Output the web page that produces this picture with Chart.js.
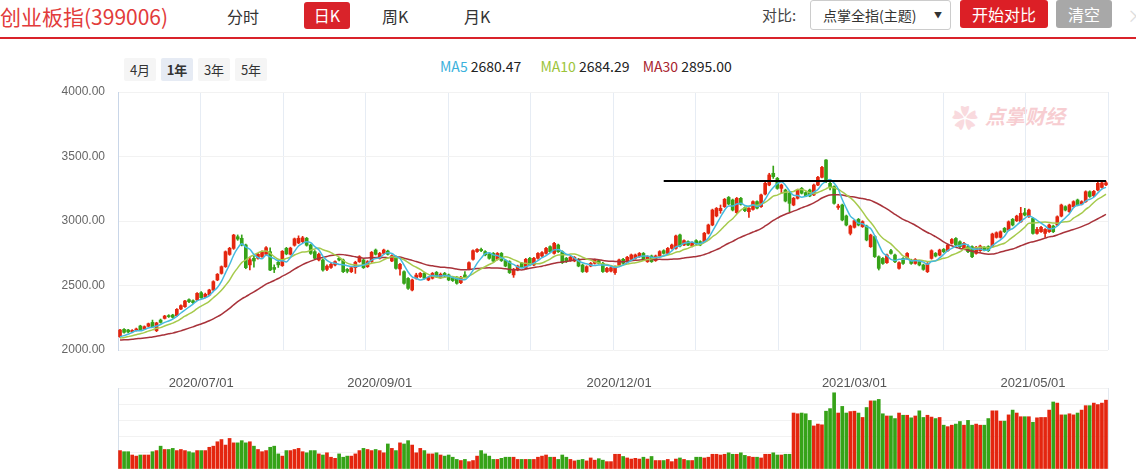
<!DOCTYPE html>
<html>
<head>
<meta charset="utf-8">
<script src="https://cdn.jsdelivr.net/npm/chart.js@4.4.1/dist/chart.umd.min.js"></script>
<style>
body { margin:0; width:1136px; height:469px; overflow:hidden; background:#fff; position:relative;
       font-family:'Noto Sans CJK SC','Liberation Sans',sans-serif; color:#333; }
.a { position:absolute; white-space:nowrap; }
.btn { position:absolute; text-align:center; border-radius:3px; }
.rng { position:absolute; top:58px; width:32px; height:23px; line-height:23px; text-align:center;
       font-size:13px; background:#f5f5f5; border-radius:2px; color:#333; }
#main { position:absolute; left:0; top:40px; }
#vol { position:absolute; left:0; top:380px; }
</style>
</head>
<body>
<div class="a" style="left:0;top:1px;font-size:21px;color:#e23b3b;">创业板指(399006)</div>
<div class="a" style="left:227px;top:4px;font-size:16px;">分时</div>
<div class="btn" style="left:304px;top:2px;width:46px;height:27px;line-height:27px;background:#d9232a;color:#fff;font-size:16px;">日K</div>
<div class="a" style="left:382px;top:4px;font-size:16px;">周K</div>
<div class="a" style="left:464px;top:4px;font-size:16px;">月K</div>

<div class="a" style="left:762px;top:4px;font-size:15px;color:#444;">对比:</div>
<div class="btn" style="left:810px;top:0;width:139px;height:28px;border:1px solid #ccc;background:#fff;"></div>
<div class="a" style="left:823px;top:5px;font-size:14px;color:#333;">点掌全指(主题)</div>
<div class="a" style="left:934px;top:9px;font-size:8px;color:#333;">▼</div>
<div class="btn" style="left:960px;top:0;width:88px;height:28px;line-height:28px;background:#dc1f26;color:#fff;font-size:16px;">开始对比</div>
<div class="btn" style="left:1056px;top:0;width:56px;height:28px;line-height:28px;background:#a8a8a8;color:#fff;font-size:16px;">清空</div>
<div class="a" style="left:1127px;top:2px;font-size:18px;color:#ddd;">×</div>
<div class="a" style="left:0;top:37px;width:1136px;height:2px;background:#d9232a;"></div>

<div class="rng" style="left:124px;">4月</div>
<div class="rng" style="left:161px;background:#e6ebf4;font-weight:bold;">1年</div>
<div class="rng" style="left:198px;">3年</div>
<div class="rng" style="left:235px;">5年</div>

<div class="a" style="left:440px;top:56px;font-size:14px;color:#222;">
  <span style="color:#3bb1dc">MA5</span> 2680.47
  <span style="color:#9cc43a;margin-left:16px">MA10</span> 2684.29
  <span style="color:#a8232e;margin-left:10px">MA30</span> 2895.00
</div>

<div class="a" style="left:952px;top:98px;font-size:26px;color:#f9dade;">✿</div>
<div class="a" style="left:985px;top:101px;font-size:20px;font-weight:bold;font-style:italic;color:#f7cdd1;">点掌财经</div>

<canvas id="main" width="1136" height="355"></canvas>
<canvas id="vol" width="1136" height="100"></canvas>

<script>
// 交易日历：起止日期与休市日
const firstDay = '2020-06-01';
const lastDay = '2021-06-01';
const holidays = ['2020-06-25','2020-06-26','2020-10-01','2020-10-02','2020-10-05','2020-10-06',
  '2020-10-07','2020-10-08','2021-01-01','2021-02-11','2021-02-12','2021-02-15','2021-02-16',
  '2021-02-17','2021-04-05','2021-05-03','2021-05-04','2021-05-05'];

// x 轴显示的日期标签
const tickLabels = [
  { date: '2020-07-01', text: '2020/07/01' },
  { date: '2020-09-01', text: '2020/09/01' },
  { date: '2020-12-01', text: '2020/12/01' },
  { date: '2021-03-01', text: '2021/03/01' },
  { date: '2021-05-06', text: '2021/05/01' }
];

// 2020年5月收盘价（只用于计算均线起点）
const priorCloses = [2075,2090,2068,2055,2061,2072,2080,2066,2050,2048,2060,2074,2085,2070,2062,
  2058,2066,2072,2078,2083,2090,2074,2081,2086,2079,2094,2088,2082,2096];

const opens = [
  2103,2160,2155,2142,2153,2186,2163,2184,2214,2150,2232,2245,2266,2271,2266,2318,2336,2390,2382,2388,
  2444,2411,2426,2465,2543,2594,2646,2741,2788,2878,2866,2814,2660,2711,2711,2724,2742,2762,2640,2680,
  2654,2788,2742,2812,2830,2840,2866,2814,2762,2698,2698,2625,2640,2659,2711,2698,2625,2607,2638,2685,
  2698,2646,2685,2775,2711,2749,2767,2690,2724,2628,2607,2555,2465,2556,2568,2594,2543,2556,2602,2561,
  2594,2582,2556,2564,2522,2582,2626,2703,2763,2780,2763,2742,2749,2703,2749,2693,2685,2582,2620,2672,
  2633,2711,2659,2711,2729,2749,2801,2749,2814,2762,2711,2693,2690,2703,2659,2608,2651,2672,2693,2672,
  2608,2612,2600,2659,2703,2685,2703,2711,2724,2749,2685,2729,2693,2729,2770,2749,2788,2788,2892,2814,
  2840,2806,2848,2840,2840,2905,2969,3039,3080,3111,3183,3163,3065,3176,3103,3072,3090,3150,3111,3209,
  3279,3370,3331,3253,3240,3215,3124,3176,3253,3220,3240,3202,3279,3339,3473,3292,3266,3105,3124,3039,
  2904,2951,3013,2956,2961,2801,2880,2723,2710,2677,2770,2736,2633,2710,2710,2697,2671,2684,2659,2607,
  2710,2749,2736,2780,2770,2827,2865,2839,2783,2801,2801,2749,2770,2796,2801,2801,2873,2873,2943,2930,
  3013,3002,2994,3064,3033,3020,2904,2917,2904,2917,2961,2969,3038,3111,3072,3111,3163,3131,3150,3227,
  3195,3240,3260,3280
];
const closes = [
  2155,2137,2140,2152,2163,2155,2181,2204,2180,2210,2214,2263,2259,2253,2315,2344,2380,2375,2367,2439,
  2406,2432,2465,2530,2587,2646,2762,2788,2891,2860,2814,2638,2700,2690,2742,2762,2793,2620,2625,2660,
  2765,2745,2790,2862,2866,2870,2812,2749,2711,2742,2620,2650,2664,2685,2698,2607,2610,2638,2680,2724,
  2638,2685,2757,2742,2749,2775,2742,2731,2633,2664,2517,2478,2543,2581,2594,2556,2561,2594,2568,2587,
  2574,2543,2538,2517,2564,2564,2677,2770,2780,2770,2737,2711,2690,2749,2693,2651,2600,2626,2651,2646,
  2703,2659,2711,2749,2755,2788,2762,2827,2762,2677,2685,2719,2718,2651,2608,2646,2672,2698,2672,2608,
  2633,2638,2646,2698,2672,2719,2737,2737,2749,2698,2724,2685,2729,2763,2749,2788,2814,2884,2806,2848,
  2814,2832,2822,2814,2905,2969,3085,3098,3098,3168,3132,3085,3176,3130,3080,3098,3150,3100,3202,3292,
  3357,3344,3253,3279,3155,3137,3176,3240,3215,3194,3194,3279,3339,3416,3305,3266,3137,3116,3008,2969,
  2961,3002,2969,2995,2853,2891,2724,2633,2671,2736,2749,2684,2677,2671,2749,2671,2702,2659,2625,2671,
  2770,2728,2775,2762,2814,2857,2814,2801,2827,2762,2723,2796,2806,2775,2770,2899,2909,2917,2917,2994,
  2969,3038,3059,3046,3085,2904,2935,2951,2935,2969,2917,3033,3124,3085,3124,3150,3124,3150,3227,3190,
  3230,3292,3295,3296
];
const highs = [
  2160,2166,2161,2158,2170,2192,2187,2209,2232,2215,2240,2269,2274,2277,2321,2350,2386,2397,2389,2445,
  2453,2441,2471,2537,2593,2652,2768,2796,2897,2892,2892,2821,2720,2726,2749,2769,2801,2792,2660,2700,
  2771,2796,2797,2868,2885,2881,2873,2821,2771,2751,2706,2660,2672,2692,2718,2705,2632,2646,2688,2731,
  2706,2693,2764,2783,2757,2782,2774,2738,2730,2672,2613,2561,2550,2595,2601,2601,2568,2601,2609,2597,
  2602,2589,2563,2570,2571,2608,2684,2777,2787,2790,2770,2749,2756,2756,2756,2700,2692,2633,2658,2679,
  2710,2718,2718,2756,2762,2795,2808,2834,2821,2769,2718,2726,2725,2710,2666,2653,2679,2705,2700,2679,
  2640,2645,2653,2705,2710,2726,2744,2744,2756,2756,2731,2736,2736,2770,2777,2795,2821,2891,2899,2855,
  2847,2839,2855,2847,2912,2976,3092,3105,3124,3175,3190,3170,3183,3183,3110,3105,3157,3157,3209,3299,
  3370,3426,3338,3286,3247,3222,3183,3247,3260,3227,3247,3286,3346,3423,3477,3300,3273,3130,3131,3046,
  2968,3009,3020,3002,2968,2898,2887,2730,2717,2743,2780,2743,2684,2717,2756,2704,2709,2691,2666,2678,
  2777,2756,2782,2787,2821,2864,2872,2846,2834,2815,2808,2803,2813,2803,2808,2906,2916,2924,2950,3001,
  3020,3045,3106,3098,3092,3027,2950,2958,2942,2976,2968,3040,3131,3118,3131,3157,3170,3157,3234,3234,
  3237,3299,3302,3310
];
const lows = [
  2098,2130,2132,2136,2147,2150,2158,2179,2175,2142,2208,2240,2252,2247,2261,2312,2330,2367,2360,2383,
  2400,2404,2420,2460,2537,2588,2640,2734,2780,2850,2807,2630,2620,2642,2704,2717,2735,2614,2600,2640,
  2648,2738,2736,2805,2824,2832,2805,2741,2700,2690,2612,2614,2632,2652,2690,2600,2598,2600,2594,2679,
  2632,2640,2679,2736,2705,2743,2736,2684,2626,2581,2510,2470,2458,2549,2562,2550,2537,2550,2562,2555,
  2566,2537,2531,2510,2515,2558,2620,2697,2757,2763,2730,2704,2684,2697,2686,2645,2593,2563,2614,2640,
  2627,2653,2653,2705,2722,2743,2756,2743,2756,2670,2678,2687,2684,2645,2601,2601,2645,2666,2666,2601,
  2601,2605,2585,2653,2666,2679,2697,2705,2718,2692,2679,2679,2687,2723,2743,2743,2782,2782,2800,2808,
  2808,2800,2816,2808,2834,2899,2963,3032,3060,3105,3126,3078,3058,3123,3073,3028,3084,3093,3105,3203,
  3273,3330,3246,3215,3148,3072,3118,3170,3209,3188,3188,3196,3273,3333,3298,3240,3130,3090,3001,2962,
  2892,2945,2962,2950,2846,2795,2717,2620,2664,2671,2742,2677,2626,2664,2704,2664,2665,2652,2618,2600,
  2704,2721,2730,2755,2764,2821,2807,2794,2777,2755,2716,2743,2764,2768,2763,2795,2867,2867,2910,2924,
  2962,2996,2988,3039,3027,2897,2898,2911,2873,2911,2910,2963,3032,3078,3066,3105,3117,3125,3144,3183,
  3189,3234,3254,3274
];

// 成交量（相对单位）
const volumes = [
  50,47,47,38,35,38,38,38,47,50, 62,53,53,56,50,53,50,47,44,50,
  50,50,59,62,74,80,65,83,71,71, 77,71,74,62,53,47,50,59,62,41,
  35,50,50,53,56,47,44,50,50,41, 38,44,32,29,41,32,35,35,41,50,
  56,53,50,53,50,44,68,56,50,71, 68,77,65,44,56,50,41,41,44,38,
  35,38,32,26,23,26,20,23,35,50, 41,35,26,26,29,32,32,32,26,26,
  26,26,26,32,35,38,32,32,26,38, 32,26,22,24,26,22,30,24,28,24,
  20,20,40,40,34,30,27,29,27,32, 27,34,23,23,23,26,20,27,30,26,
  23,23,32,32,30,32,40,40,38,40, 44,40,40,44,37,34,32,32,30,40,
  40,44,38,38,40,40,152,150,152,150, 132,117,122,120,157,164,207,152,170,152,
  156,157,152,140,167,185,185,189,150,144, 144,137,152,146,146,139,144,158,140,146,
  141,137,140,119,115,119,122,129,119,132, 119,122,119,119,137,158,158,130,130,147,
  160,152,142,142,142,127,139,140,140,160, 182,179,147,147,150,147,152,160,172,172,
  179,175,179,187
];

// 画线：压力位
const trendLine = { fromDate: '2020-12-16', value: 3310 };

const RED = '#e4260f';
const GREEN = '#36a318';

// 生成交易日
const dates = [];
for (let d = new Date(firstDay + 'T00:00:00Z'); d <= new Date(lastDay + 'T00:00:00Z'); d.setUTCDate(d.getUTCDate() + 1)) {
  const wd = d.getUTCDay();
  const s = d.toISOString().split('T')[0];
  if (wd !== 0 && wd !== 6 && !holidays.includes(s)) dates.push(s);
}

const labelMap = {};
tickLabels.forEach(t => { labelMap[dates.indexOf(t.date)] = t.text; });

function movingAverage(n) {
  const all = priorCloses.concat(closes);
  return closes.map((c, i) => {
    const end = i + priorCloses.length + 1;
    const part = all.slice(Math.max(0, end - n), end);
    return part.reduce((a, b) => a + b, 0) / part.length;
  });
}

const colors = closes.map((c, i) => c >= opens[i] ? RED : GREEN);
const bodies = closes.map((c, i) => [opens[i], c]);
const wicks = closes.map((c, i) => [lows[i], highs[i]]);
const lineStart = dates.indexOf(trendLine.fromDate);
const lineData = dates.map((d, i) => i >= lineStart ? trendLine.value : null);

Chart.defaults.font.family = "'Liberation Sans', Arial, sans-serif";
Chart.defaults.animation = false;

const leftWidth = s => { s.width = 118; };

new Chart(document.getElementById('main'), {
  type: 'bar',
  data: {
    labels: dates,
    datasets: [
      { type: 'line', data: lineData, borderColor: '#000', borderWidth: 2, pointRadius: 0, order: 0 },
      { type: 'line', data: movingAverage(5), borderColor: '#45b9df', borderWidth: 1.5, pointRadius: 0, cubicInterpolationMode: 'monotone', order: 1 },
      { type: 'line', data: movingAverage(10), borderColor: '#a6ca4c', borderWidth: 1.5, pointRadius: 0, cubicInterpolationMode: 'monotone', order: 1 },
      { type: 'line', data: movingAverage(30), borderColor: '#a8323a', borderWidth: 1.5, pointRadius: 0, cubicInterpolationMode: 'monotone', order: 1 },
      { data: bodies, backgroundColor: colors, barThickness: 3, minBarLength: 1, grouped: false, order: 2 },
      { data: wicks, backgroundColor: colors, barThickness: 1, grouped: false, order: 3 }
    ]
  },
  options: {
    responsive: false,
    devicePixelRatio: 1,
    layout: { padding: { top: 52, right: 28, left: 0, bottom: 0 } },
    plugins: { legend: { display: false }, tooltip: { enabled: false } },
    scales: {
      x: {
        grid: { display: false, drawTicks: false },
        border: { display: false },
        ticks: {
          autoSkip: false, maxRotation: 0, padding: 26, color: '#555', font: { size: 13 },
          callback: (v, i) => labelMap[i] || ''
        },
        afterFit: s => { s.height = 45; }
      },
      grid12: {
        type: 'linear', position: 'top', min: 0, max: 12, offset: false,
        ticks: { display: false, stepSize: 1 },
        grid: { color: '#e6ecf4', drawTicks: false, offset: false },
        border: { display: false },
        afterFit: s => { s.height = 0; }
      },
      y: {
        min: 2000, max: 4000,
        ticks: { stepSize: 500, padding: 13, color: '#666', font: { size: 12 }, callback: v => v.toFixed(2) },
        grid: { color: '#f2f2f2', drawTicks: false },
        border: { color: '#c9d6e8' },
        afterFit: leftWidth
      }
    }
  }
});

new Chart(document.getElementById('vol'), {
  type: 'bar',
  data: {
    labels: dates,
    datasets: [{ data: volumes, backgroundColor: colors, barThickness: 3 }]
  },
  options: {
    responsive: false,
    devicePixelRatio: 1,
    layout: { padding: { top: 8, right: 27, left: 0, bottom: 11 } },
    plugins: { legend: { display: false }, tooltip: { enabled: false } },
    scales: {
      x: { display: false },
      y: {
        min: 0, max: 220,
        ticks: { display: false, stepSize: 44 },
        grid: { color: '#f2f2f2', drawTicks: false },
        border: { color: '#d6dfea' },
        afterFit: leftWidth
      },
      yr: {
        position: 'right', min: 0, max: 220,
        ticks: { display: false },
        grid: { display: false, drawTicks: false },
        border: { color: '#e3e8ef' },
        afterFit: s => { s.width = 1; }
      }
    }
  }
});
</script>
</body>
</html>
